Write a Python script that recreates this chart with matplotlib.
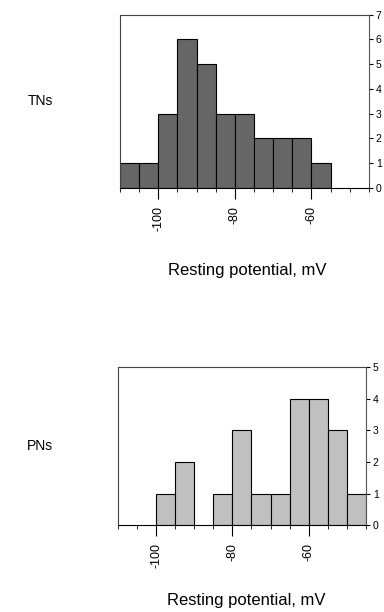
import numpy as np
import matplotlib.pyplot as plt
from matplotlib.ticker import MultipleLocator

plt.rcParams['font.family'] = ['Liberation Sans', 'DejaVu Sans']

# bin left edges (mV), 5 mV wide
bin_edges = [-110, -105, -100, -95, -90, -85, -80, -75, -70, -65, -60, -55, -50]
tn_counts = [1, 1, 3, 6, 5, 3, 3, 2, 2, 2, 1, 0, 0]
pn_counts = [0, 0, 1, 2, 0, 1, 3, 1, 1, 4, 4, 3, 1]
bin_width = 5

panels = [
    ('TNs', tn_counts, '#666666', 7, [0.3125, 0.693, 0.648, 0.283]),
    ('PNs', pn_counts, '#c0c0c0', 5, [0.307, 0.142, 0.646, 0.258]),
]

fig = plt.figure(figsize=(3.84, 6.12), dpi=100)

for name, counts, color, ymax, rect in panels:
    ax = fig.add_axes(rect)
    x = np.array(bin_edges)
    c = np.array(counts)
    ax.bar(x[c > 0], c[c > 0], width=bin_width, align='edge',
           color=color, edgecolor='black', linewidth=0.8)
    ax.set_xlim(-110, -45)
    ax.set_ylim(0, ymax)
    ax.xaxis.set_minor_locator(MultipleLocator(5))
    ax.set_xticks([-100, -80, -60])
    ax.set_xticklabels(['-100', '-80', '-60'], rotation=90, fontsize=9)
    ax.tick_params(axis='x', which='major', length=8, width=0.8, pad=5)
    ax.tick_params(axis='x', which='minor', length=3, width=0.6)
    ax.yaxis.tick_right()
    ax.set_yticks(range(ymax + 1))
    ax.tick_params(axis='y', labelsize=7.5, length=3, width=0.8, pad=2)
    for s in ax.spines.values():
        s.set_linewidth(0.8)
        s.set_color('#444444')
    ax.spines['bottom'].set_color('black')
    ax.spines['right'].set_color('#555555')

    fig.text(0.105, rect[1] + rect[3] * 0.5, name, fontsize=10,
             ha='center', va='center')

fig.text(0.645, 1 - 270 / 612, 'Resting potential, mV', fontsize=12,
         ha='center', va='center')
fig.text(0.64, 1 - 601 / 612, 'Resting potential, mV', fontsize=12,
         ha='center', va='center')

plt.savefig('out.png', dpi=100)
